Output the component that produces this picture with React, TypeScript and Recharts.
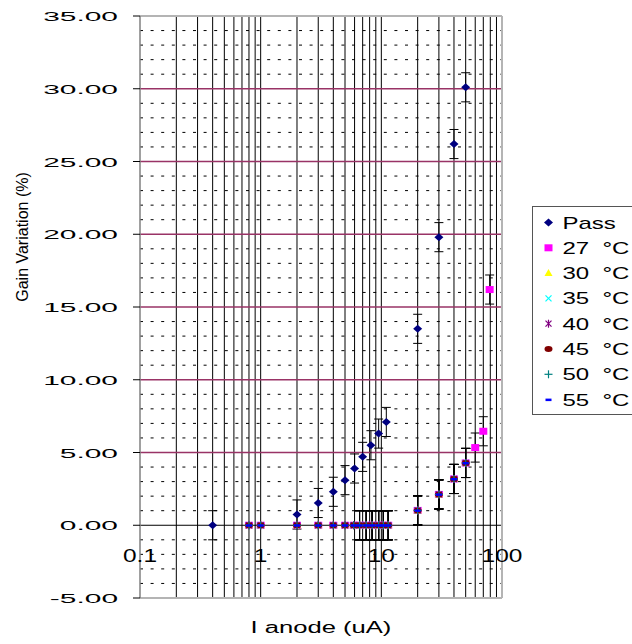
import React from 'react';
import { ScatterChart, Scatter, XAxis, YAxis, ReferenceLine, ErrorBar } from 'recharts';

// ---------- data ----------
const xTicks = [0.1, 1, 10, 100];
const yTicks = [-5, 0, 5, 10, 15, 20, 25, 30, 35];
const xGrid = [0.2, 0.3, 0.4, 0.5, 0.6, 0.7, 0.8, 0.9, 1, 2, 3, 4, 5, 6, 7, 8, 9, 10, 20, 30, 40, 50, 60, 70, 80, 90];
const yMajor = [5, 10, 15, 20, 25, 30];
const yMinor = [-4, -3, -2, -1, 1, 2, 3, 4, 6, 7, 8, 9, 11, 12, 13, 14, 16, 17, 18, 19, 21, 22, 23, 24, 26, 27, 28, 29, 31, 32, 33, 34];

const passX = [0.4, 2, 3, 4, 5, 6, 7, 8.2, 9.5, 11, 20, 30, 40, 50];
const passY = [0, 0.74, 1.53, 2.3, 3.1, 3.9, 4.7, 5.5, 6.3, 7.1, 13.5, 19.8, 26.2, 30.1];
const passErr = [1, 1, 1, 1, 1, 1, 1, 1, 1, 1, 1, 1, 1, 1];

const tempX = [0.8, 1, 2, 3, 4, 5, 5.9, 6.6, 7.5, 8.4, 9.5, 10.4, 11.4, 20, 30, 40, 50];
const tempY = [0, 0, 0, 0, 0, 0, 0, 0, 0, 0, 0, 0, 0, 1.02, 2.12, 3.18, 4.28];
const tempErr = [null, null, null, null, null, null, null, 1, 1, 1, 1, 1, 1, 1, 1, 1, 1];

const t27X = [...tempX, 60, 70, 79];
const t27Y = [...tempY, 5.34, 6.46, 16.2];
const t27Err = [...tempErr, 1, 1, 1];

const seriesNames = ['Pass', '27 °C', '30 °C', '35 °C', '40 °C', '45 °C', '50 °C', '55 °C'];
const seriesColors = ['#000080', '#FF00FF', '#FFFF00', '#00FFFF', '#800080', '#800000', '#008080', '#0000FF'];
const seriesShapes = ['diamond', 'square', 'triangle', 'x', 'star', 'circle', 'plus', 'dash'];

const build = (xs: number[], ys: number[], es: (number | null)[]) =>
  xs.map((x, i) => (es[i] == null ? { x, y: ys[i] } : { x, y: ys[i], err: es[i] }));

const passData = build(passX, passY, passErr);
const t27Data = build(t27X, t27Y, t27Err);
const tempData = build(tempX, tempY, tempErr);
const seriesData = [passData, t27Data, tempData, tempData, tempData, tempData, tempData, tempData];

// ---------- markers ----------
function Marker({ kind, cx, cy, color }: { kind: string; cx: number; cy: number; color: string }) {
  if (cx == null || cy == null || isNaN(cx) || isNaN(cy)) return null;
  switch (kind) {
    case 'diamond':
      return <polygon points={`${cx},${cy - 4} ${cx + 4.5},${cy} ${cx},${cy + 4} ${cx - 4.5},${cy}`} fill={color} />;
    case 'square':
      return <rect x={cx - 4} y={cy - 3.5} width={8} height={7} fill={color} />;
    case 'triangle':
      return <polygon points={`${cx},${cy - 4} ${cx + 4},${cy + 3} ${cx - 4},${cy + 3}`} fill={color} />;
    case 'x':
      return (
        <g stroke={color} strokeWidth={1.2}>
          <line x1={cx - 3} y1={cy - 3} x2={cx + 3} y2={cy + 3} />
          <line x1={cx - 3} y1={cy + 3} x2={cx + 3} y2={cy - 3} />
        </g>
      );
    case 'star':
      return (
        <g stroke={color} strokeWidth={1.2}>
          <line x1={cx - 3} y1={cy - 3} x2={cx + 3} y2={cy + 3} />
          <line x1={cx - 3} y1={cy + 3} x2={cx + 3} y2={cy - 3} />
          <line x1={cx} y1={cy - 4} x2={cx} y2={cy + 4} />
        </g>
      );
    case 'circle':
      return <ellipse cx={cx} cy={cy} rx={4} ry={3} fill={color} />;
    case 'plus':
      return (
        <g stroke={color} strokeWidth={1.2}>
          <line x1={cx - 4} y1={cy} x2={cx + 4} y2={cy} />
          <line x1={cx} y1={cy - 4} x2={cx} y2={cy + 4} />
        </g>
      );
    case 'dash':
      return <rect x={cx - 3} y={cy - 1} width={6} height={2.5} fill={color} />;
    default:
      return null;
  }
}

const FONT = '"Liberation Sans", Arial, sans-serif';

function YTick(props: any) {
  const { x, y, payload } = props;
  return (
    <text transform={`translate(${x} ${y + 5}) scale(2.3 1)`} textAnchor="end" fontSize={13} fontFamily={FONT} fill="#000">
      {Number(payload.value).toFixed(2)}
    </text>
  );
}

function XTick(props: any) {
  const { x, y, payload } = props;
  return (
    <text transform={`translate(${x} ${y - 36.5}) scale(1.36 1)`} textAnchor="middle" fontSize={18} fontFamily={FONT} fill="#000">
      {String(payload.value)}
    </text>
  );
}

function XTitle(props: any) {
  const vb = props.viewBox || {};
  const cx = vb.x + vb.width / 2;
  return (
    <text transform={`translate(${cx} ${vb.y + 35}) scale(1.6 1)`} textAnchor="middle" fontSize={16} fontFamily={FONT} fill="#000">
      I anode (uA)
    </text>
  );
}

function YTitle(props: any) {
  const vb = props.viewBox || {};
  const tx = vb.x + 28;
  const ty = vb.y + 221;
  return (
    <text transform={`translate(${tx} ${ty}) rotate(-90)`} textAnchor="middle" fontSize={16} fontFamily={FONT} fill="#000">
      Gain Variation (%)
    </text>
  );
}

function LegendBox() {
  return (
    <svg width={140} height={215} style={{ position: 'absolute', left: 532, top: 206, overflow: 'visible' }}>
      <rect x={0.5} y={0.5} width={130} height={208} fill="#fff" stroke="#555" strokeWidth={1} />
      {seriesNames.map((name, i) => {
        const cy = 16.5 + i * 25.3;
        return (
          <g key={name}>
            <Marker kind={seriesShapes[i]} cx={16.5} cy={cy} color={seriesColors[i]} />
            <text transform={`translate(30.5 ${cy + 6}) scale(1.5 1)`} fontSize={16} fontFamily={FONT} fill="#000" style={{ whiteSpace: 'pre' }}>
              {name.replace(' ', '  ')}
            </text>
          </g>
        );
      })}
    </svg>
  );
}

export default function App() {
  return (
    <div style={{ position: 'absolute', left: 0, top: 0, width: 632, height: 644, overflow: 'hidden', background: '#fff' }}>
      <ScatterChart width={632} height={644} margin={{ top: 16, right: 130, bottom: 16, left: 0 }}>
        <XAxis
          type="number"
          dataKey="x"
          scale="log"
          domain={[0.1, 100]}
          ticks={xTicks}
          allowDataOverflow
          height={30}
          tickLine={false}
          tickSize={0}
          tickMargin={0}
          axisLine={{ stroke: '#b4b4b4', strokeWidth: 2 }}
          tick={<XTick />}
          interval={0}
          label={<XTitle />}
        />
        <YAxis
          type="number"
          dataKey="y"
          domain={[-5, 35]}
          ticks={yTicks}
          allowDataOverflow
          width={140}
          tickSize={7}
          tickMargin={15}
          tickLine={{ stroke: '#000' }}
          axisLine={{ stroke: '#808080', strokeWidth: 1.5 }}
          tick={<YTick />}
          interval={0}
          label={<YTitle />}
        />
        {xGrid.map((v) => (
          <ReferenceLine key={'vx' + v} x={v} stroke="#000" strokeWidth={1} />
        ))}
        {yMinor.map((v) => (
          <ReferenceLine key={'hm' + v} y={v} stroke="#000" strokeWidth={1} strokeDasharray="3 7.6" />
        ))}
        {yMajor.map((v) => (
          <ReferenceLine key={'hM' + v} y={v} stroke="#993366" strokeWidth={1.3} />
        ))}
        <ReferenceLine y={0} stroke="#000" strokeWidth={1} />
        <ReferenceLine y={35} stroke="#b4b4b4" strokeWidth={2} />
        <ReferenceLine x={100} stroke="#b4b4b4" strokeWidth={2} />
        {seriesNames.map((name, i) => (
          <Scatter
            key={name}
            name={name}
            data={seriesData[i]}
            isAnimationActive={false}
            shape={(p: any) => <Marker kind={seriesShapes[i]} cx={p.cx} cy={p.cy} color={seriesColors[i]} />}
          >
            <ErrorBar dataKey="err" direction="y" width={4.5} stroke="#000" strokeWidth={1} />
          </Scatter>
        ))}
      </ScatterChart>
      <LegendBox />
    </div>
  );
}
